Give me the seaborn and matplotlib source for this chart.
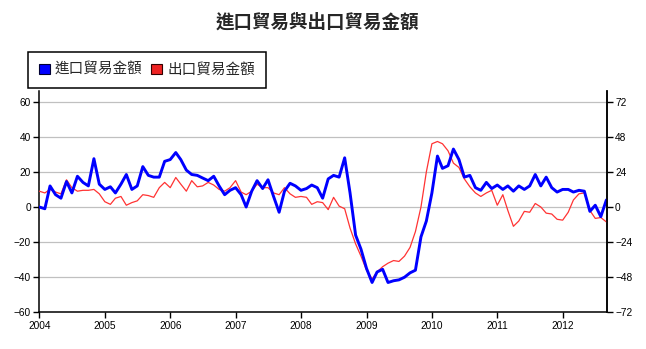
import numpy as np
import pandas as pd
import matplotlib
matplotlib.use("Agg")
import matplotlib.pyplot as plt
import matplotlib.dates as mdates
from matplotlib.patches import Patch
import seaborn as sns

# Monthly year-on-year change (%), Jan 2004 - Sep 2012
months = pd.date_range("2004-01-01", "2012-09-01", freq="MS")

imports = [
    0, -1, 12, 7, 5, 14.5, 8, 17.5, 14, 12,
    27.5, 13, 10, 11.5, 8, 13, 18.5, 10, 12, 23,
    18, 17, 17, 26, 27, 31, 27, 21, 18.5, 18,
    16.5, 15, 17.5, 12, 7, 9.5, 11, 7, 0, 9,
    15, 10.5, 15.5, 6, -3, 9, 13.5, 12, 9.5, 10.5,
    12.5, 11, 5, 16, 18, 17, 28, 8, -16, -24,
    -35, -43, -37, -35.5, -43, -42, -41.5, -40, -37.5, -36,
    -17, -8, 8, 29, 22, 23.5, 33, 27, 17, 18,
    11, 9.5, 14, 10.5, 12.5, 10, 12, 9, 12, 10,
    12, 18.5, 12, 17, 11, 8.5, 10, 10, 8.5, 9.5,
    9, -2.5, 1, -5.5, 4,
]

exports = [
    9, 8, 10, 8.5, 7.5, 15.5, 11, 9, 9.5, 9.5,
    10, 7.5, 3, 1.5, 5, 6, 1, 2.5, 3.5, 7,
    6.5, 5.5, 11, 14, 11, 16.8, 13, 9, 15, 11.5,
    12, 14, 12.5, 10, 9, 11, 15, 8.5, 7, 9,
    13, 11, 11, 8, 7, 11, 7.5, 5.5, 6, 5.5,
    1.5, 3, 2.5, -1.5, 5.5, 0.5, -1, -12, -21, -28,
    -36, -41, -37, -34, -32, -30.5, -31, -28, -23, -14,
    0, 20, 36, 37.3, 36, 32, 25, 22.5, 16, 11.5,
    8, 6, 8, 9.5, 1, 7, -2, -11, -8, -2.5,
    -3, 2, 0, -3.5, -4, -7, -7.5, -3, 4, 7.5,
    8, -2, -6.5, -6, -8.5,
]

left_ticks = [-60, -40, -20, 0, 20, 40, 60]
right_ticks = [-72, -48, -24, 0, 24, 48, 72]
year_ticks = list(range(2004, 2013))

title = "進口貿易與出口貿易金額"
name_imp = "進口貿易金額"
name_exp = "出口貿易金額"

df = pd.DataFrame({"月份": months, name_imp: imports, name_exp: exports})

sns.set_style("white")
plt.rcParams["font.family"] = ["Liberation Sans", "Noto Sans CJK TC", "DejaVu Sans"]
cjk = ["Noto Sans CJK TC", "DejaVu Sans"]

fig = plt.figure(figsize=(6.46, 3.49), dpi=100)
ax = fig.add_axes([0.0608, 0.105, 0.8784, 0.634])

blue = "#0000FF"
red = "#FF3333"

sns.lineplot(data=df, x="月份", y=name_exp, ax=ax, color=red, linewidth=0.9,
             zorder=3, legend=False)
sns.lineplot(data=df, x="月份", y=name_imp, ax=ax, color=blue, linewidth=2.1,
             zorder=4, legend=False)
for ln in ax.lines:
    ln.set_solid_joinstyle("round")
    ln.set_solid_capstyle("round")

ax.set_xlim(months[0], months[-1] + pd.Timedelta(days=2))
ax.set_ylim(-60, 66)
ax.set_yticks(left_ticks)
ax.set_xticks([pd.Timestamp(f"{y}-01-01") for y in year_ticks])
ax.xaxis.set_major_formatter(mdates.DateFormatter("%Y"))
ax.set_xlabel("")
ax.set_ylabel("")

for y in left_ticks[1:]:
    ax.axhline(y, color="#c0c0c0", linewidth=0.9, zorder=1)

for s in ["top"]:
    ax.spines[s].set_visible(False)
for s in ["left", "bottom", "right"]:
    ax.spines[s].set_color("black")
    ax.spines[s].set_linewidth(1.1)

ax.tick_params(axis="both", direction="out", length=4, width=1, color="black",
               labelsize=7.3, labelcolor="black", pad=2)
ax.tick_params(axis="y", left=True)
ax.tick_params(axis="x", bottom=True)

ax2 = ax.twinx()
ax2.set_ylim(-72, 79.2)
ax2.set_yticks(right_ticks)
for s in ["top", "left", "bottom"]:
    ax2.spines[s].set_visible(False)
ax2.spines["right"].set_color("black")
ax2.spines["right"].set_linewidth(1.1)
ax2.tick_params(axis="y", direction="out", length=4, width=1, color="black",
                labelsize=7.3, labelcolor="black", pad=2, right=True)
ax2.grid(False)

fig.text(0.491, 0.938, title, ha="center", va="center", fontsize=13.3,
         fontweight="bold", family=cjk)

handles = [Patch(facecolor=blue, edgecolor="#000033", linewidth=0.8),
           Patch(facecolor="#EE2222", edgecolor="#330000", linewidth=0.8)]
leg = fig.legend(handles, [name_imp, name_exp], loc="upper left",
                 bbox_to_anchor=(0.0433, 0.851), ncol=2, frameon=True,
                 fancybox=False, framealpha=1, edgecolor="black",
                 handlelength=0.75, handleheight=0.75, handletextpad=0.35,
                 columnspacing=0.6, borderpad=0.75, borderaxespad=0,
                 prop={"family": cjk, "size": 10.5})
leg.get_frame().set_linewidth(1.1)

fig.savefig("out.png", dpi=100)
